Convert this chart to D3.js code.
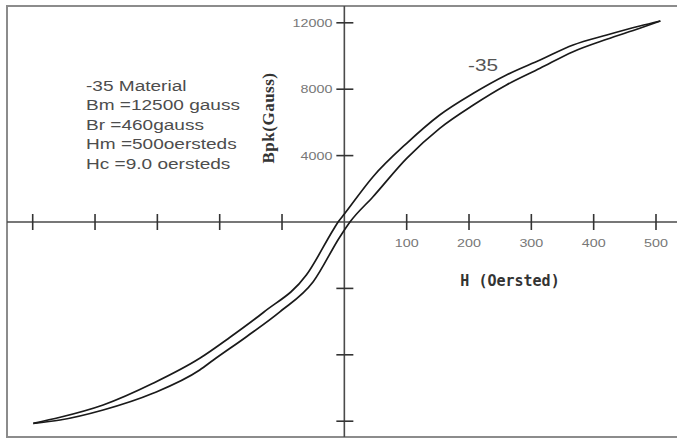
<!DOCTYPE html>
<html><head><meta charset="utf-8">
<script src="https://cdn.jsdelivr.net/npm/d3@7"></script>
<style>body{margin:0;background:#fff}svg{display:block}</style>
</head><body>
<svg id="c" width="677" height="438"></svg>
<script>
// Descending branch (from +Hm to -Hm), listed by increasing H
const descH = [-499,-456,-387,-307,-232,-184,-130,-61,-18,-10,0,46,100,153,207,260,314,367,421,474,507];
const descB = [-12127,-11765,-11024,-9717,-8211,-6960,-5450,-3200,-482,0,480,2729,4741,6446,7753,8855,9759,10663,11265,11807,12108];
// Ascending branch (from -Hm to +Hm)
const ascH = [-499,-456,-387,-307,-232,-210,-157,-103,-50,-7,9,46,100,153,207,260,314,367,421,474,507];
const ascB = [-12127,-11928,-11325,-10319,-8916,-8313,-6910,-5400,-3600,-885,0,1524,3837,5645,7048,8253,9259,10259,11006,11669,12108];
const xTicks = [-500,-400,-300,-200,-100,100,200,300,400,500];
const xTickLabels = ["","","","","","100","200","300","400","500"];
const yTicks = [-12000,-8000,-4000,4000,8000,12000];
const yTickLabels = ["","","","4000","8000","12000"];
const infoLines = ["-35 Material","Bm =12500 gauss","Br =460gauss","Hm =500oersteds","Hc =9.0 oersteds"];
const curveLabel = "-35";
const xTitle = "H (Oersted)";
const yTitle = "Bpk(Gauss)";

const svg = d3.select("#c");
const x = d3.scaleLinear().domain([-500,500]).range([32.7,656]);
const y = d3.scaleLinear().domain([-12000,12000]).range([421.2,22.8]);
const x0 = x(0), y0 = y(0);

// frame
svg.append("rect").attr("x",7).attr("y",6).attr("width",690).attr("height",431)
  .attr("fill","none").attr("stroke","#8c8c8c").attr("stroke-width",2);

// axes lines
svg.append("line").attr("x1",7).attr("x2",677).attr("y1",y0).attr("y2",y0)
  .attr("stroke","#4a4a4a").attr("stroke-width",1.6);
svg.append("line").attr("x1",x0).attr("x2",x0).attr("y1",6).attr("y2",437)
  .attr("stroke","#4a4a4a").attr("stroke-width",1.6);

// x ticks
svg.selectAll(".xt").data(xTicks).join("line")
  .attr("x1",d=>x(d)).attr("x2",d=>x(d)).attr("y1",y0-8).attr("y2",y0+8)
  .attr("stroke","#333").attr("stroke-width",1.6);
svg.selectAll(".xl").data(xTicks).join("text")
  .attr("transform",d=>`translate(${x(d)},${y0+25}) scale(1.3,1)`)
  .attr("text-anchor","middle").attr("font-family","Liberation Sans, Arial, sans-serif")
  .attr("font-size",11).attr("fill","#777").text((d,i)=>xTickLabels[i]);

// y ticks
svg.selectAll(".yt").data(yTicks).join("line")
  .attr("x1",x0-8).attr("x2",x0+9).attr("y1",d=>y(d)).attr("y2",d=>y(d))
  .attr("stroke","#333").attr("stroke-width",1.6);
svg.selectAll(".yl").data(yTicks).join("text")
  .attr("transform",d=>`translate(${x0-12},${y(d)+4}) scale(1.3,1)`)
  .attr("text-anchor","end").attr("font-family","Liberation Sans, Arial, sans-serif")
  .attr("font-size",11).attr("fill","#777").text((d,i)=>yTickLabels[i]);

// curves
const line = d3.line().x(d=>x(d[0])).y(d=>y(d[1])).curve(d3.curveMonotoneX);
svg.append("path").datum(descH.map((h,i)=>[h,descB[i]])).attr("d",line)
  .attr("fill","none").attr("stroke","#1a1a1a").attr("stroke-width",1.7);
svg.append("path").datum(ascH.map((h,i)=>[h,ascB[i]])).attr("d",line)
  .attr("fill","none").attr("stroke","#1a1a1a").attr("stroke-width",1.7);

// info text
svg.selectAll(".info").data(infoLines).join("text")
  .attr("transform",(d,i)=>`translate(86,${90.5+i*19.5}) scale(1.27,1)`)
  .attr("font-family","Liberation Sans, Arial, sans-serif").attr("font-size",15)
  .attr("fill","#4d4d4d").text(d=>d);

// curve label
svg.append("text").attr("transform",`translate(468,71) scale(1.3,1)`)
  .attr("font-family","Liberation Sans, Arial, sans-serif").attr("font-size",16)
  .attr("fill","#555").text(curveLabel);

// axis titles
svg.append("text").attr("transform",`translate(510,${y0+64})`)
  .attr("text-anchor","middle").attr("font-family","DejaVu Sans Mono, monospace")
  .attr("font-weight","bold").attr("font-size",15).attr("fill","#333").text(xTitle);
svg.append("text").attr("transform",`translate(274,118) rotate(-90)`)
  .attr("text-anchor","middle").attr("font-family","Liberation Serif, serif")
  .attr("font-weight","bold").attr("font-size",17).attr("letter-spacing",0.5)
  .attr("fill","#333").text(yTitle);
</script>
</body></html>
